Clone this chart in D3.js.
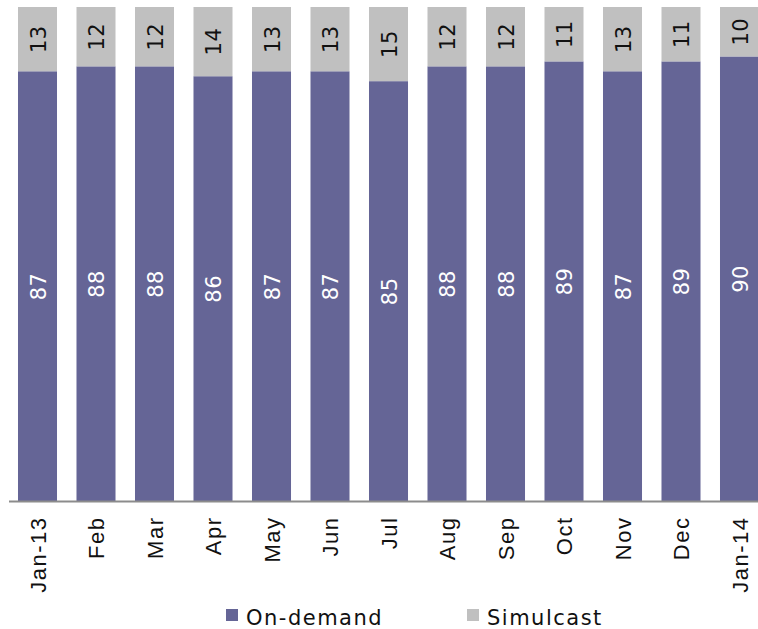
<!DOCTYPE html>
<html><head><meta charset="utf-8">
<script src="https://cdn.jsdelivr.net/npm/d3@7"></script>
<style>body{margin:0;background:#fff}svg{display:block;font-family:"Century Gothic","DejaVu Sans",sans-serif}</style>
</head><body><svg id="c" width="758" height="629"></svg>
<script>
const categories = ["Jan-13","Feb","Mar","Apr","May","Jun","Jul","Aug","Sep","Oct","Nov","Dec","Jan-14"];
const onDemand = [87,88,88,86,87,87,85,88,88,89,87,89,90];
const simulcast = [13,12,12,14,13,13,15,12,12,11,13,11,10];
const seriesNames = ["On-demand","Simulcast"];
const colors = ["#656596","#C0C0C0"];

const svg = d3.select("#c");
const plotTop = 7, plotBottom = 501.5;
const x = d3.scaleBand().domain(categories).range([8.25, 768.75]).paddingInner(0.333).paddingOuter(0.1665);
const y = d3.scaleLinear().domain([0,100]).range([plotBottom, plotTop]);

const data = categories.map((c,i)=>({cat:c, "On-demand":onDemand[i], "Simulcast":simulcast[i]}));
const stacked = d3.stack().keys(seriesNames)(data);

const g = svg.append("g");
stacked.forEach((s,si)=>{
  g.selectAll(null).data(s).enter().append("rect")
    .attr("x", d=>x(d.data.cat)).attr("width", x.bandwidth())
    .attr("y", d=>y(d[1])).attr("height", d=>y(d[0])-y(d[1]))
    .attr("fill", colors[si]);
  g.selectAll(null).data(s).enter().append("text")
    .attr("transform", d=>`translate(${x(d.data.cat)+x.bandwidth()/2+8},${(y(d[0])+y(d[1]))/2}) rotate(-90)`)
    .attr("text-anchor","middle")
    .attr("font-size", 21)
    .attr("letter-spacing", 0.5)
    .attr("fill", si===0 ? "#fff" : "#111")
    .text(d=>d.data[seriesNames[si]]);
});

// axis
const ax = svg.append("g").attr("transform",`translate(0,${plotBottom})`)
  .call(d3.axisBottom(x).tickSize(0).tickPadding(0));
ax.select(".domain").attr("stroke","#8c8c8c").attr("stroke-width",2).attr("d",`M9,0H758`);
ax.selectAll(".tick text")
  .attr("font-size",22).attr("fill","#111")
  .attr("font-family",null)
  .attr("letter-spacing",1.5)
  .attr("text-anchor","end")
  .attr("transform","rotate(-90)")
  .attr("x",-15).attr("y",8).attr("dy",0);

// legend
const legX = [226, 467];
seriesNames.forEach((n,i)=>{
  svg.append("rect").attr("x",legX[i]).attr("y",609).attr("width",12).attr("height",12).attr("fill",colors[i]);
  svg.append("text").attr("x",legX[i]+20).attr("y",625).attr("font-size",21).attr("letter-spacing",1.5).attr("fill","#111").text(n);
});
</script></body></html>
